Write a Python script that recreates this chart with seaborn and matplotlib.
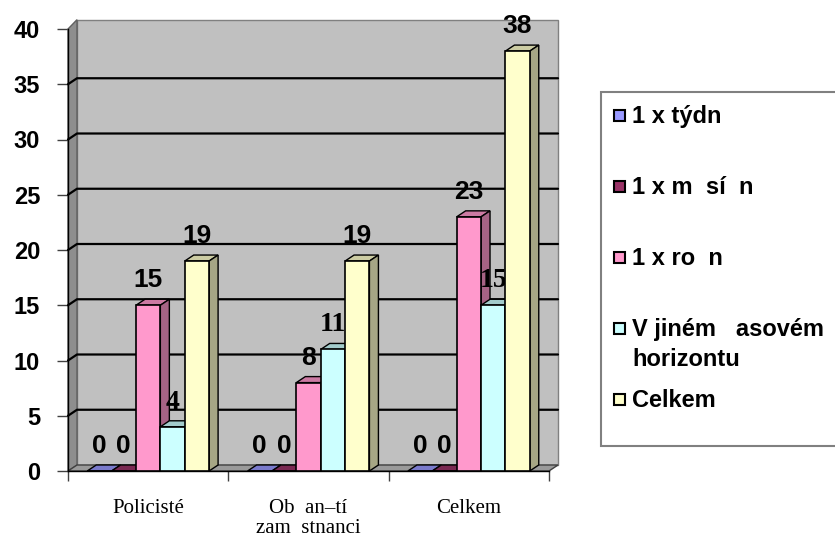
import numpy as np
import pandas as pd
import matplotlib
matplotlib.use("Agg")
import matplotlib.pyplot as plt
import seaborn as sns
from matplotlib.patches import Polygon, Rectangle
from matplotlib.lines import Line2D
from matplotlib.colors import to_rgb

# ---- data -------------------------------------------------------------
categories = ["Policisté", "Ob  an\u2013tí\nzam  stnanci", "Celkem"]
series = ["1 x týdn", "1 x m  sí  n", "1 x ro  n",
          "V jiném   asovém\nhorizontu", "Celkem"]
values_tydne = [0, 0, 0]
values_mesicne = [0, 0, 0]
values_rocne = [15, 8, 23]
values_jine = [4, 11, 15]
values_celkem = [19, 19, 38]
series_values = [values_tydne, values_mesicne, values_rocne,
                 values_jine, values_celkem]
colors = ["#9999FF", "#993366", "#FF99CC", "#CCFFFF", "#FFFFCC"]
y_ticks = [0, 5, 10, 15, 20, 25, 30, 35, 40]

rows = []
for name, vals in zip(series, series_values):
    for cat, v in zip(categories, vals):
        rows.append({"cat": cat, "series": name, "value": v})
df = pd.DataFrame(rows)

# ---- figure -------------------------------------------------------------
sns.set_theme(style="white")
plt.rcParams["font.family"] = ["Liberation Sans", "DejaVu Sans"]
plt.rcParams["text.color"] = "black"
plt.rcParams["xtick.color"] = "black"
plt.rcParams["ytick.color"] = "black"

W, H = 835, 539
fig = plt.figure(figsize=(W / 100, H / 100), dpi=100)
fig.patch.set_facecolor("white")


def fx(px):
    return px / W


def fy(py):
    return 1 - py / H


ax_l, ax_r, ax_t, ax_b = 68, 549, 29, 471
ax = fig.add_axes([fx(ax_l), fy(ax_b), (ax_r - ax_l) / W, (ax_b - ax_t) / H])
ax.patch.set_visible(False)

sns.barplot(data=df, x="cat", y="value", hue="series", order=categories,
            hue_order=series, palette=colors, width=0.76, saturation=1,
            edgecolor="black", linewidth=1.2, legend=False, ax=ax)

XMIN, XMAX, YMIN, YMAX = -0.5, 2.5, 0, 40
ax.set_xlim(XMIN, XMAX)
ax.set_ylim(YMIN, YMAX)

# depth offset of the pseudo-3D box, in data units
DX = 9 / (ax_r - ax_l) * (XMAX - XMIN)
DY = 6 / (ax_b - ax_t) * (YMAX - YMIN)


def shade(c, f):
    r, g, b = to_rgb(c)
    return (r * f, g * f, b * f)


# walls and floor
back = Polygon([(XMIN + DX, DY), (XMAX + DX, DY), (XMAX + DX, YMAX + DY + 0.3),
                (XMIN + DX, YMAX + DY + 0.3)], closed=True, fc="#C0C0C0",
               ec="#808080", lw=1.0, clip_on=False, zorder=1)
side = Polygon([(XMIN, 0), (XMIN + DX, DY), (XMIN + DX, YMAX + DY + 0.3),
                (XMIN, YMAX)], closed=True, fc="#8E8E8E", ec="#606060",
               lw=1.0, clip_on=False, zorder=1.2)
floor = Polygon([(XMIN, 0), (XMAX, 0), (XMAX + DX, DY), (XMIN + DX, DY)],
                closed=True, fc="#9A9A9A", ec="#404040", lw=1.0,
                clip_on=False, zorder=1.4)
for p in (back, side, floor):
    ax.add_patch(p)

for t in y_ticks[1:-1]:
    ax.add_line(Line2D([XMIN, XMIN + DX, XMAX + DX], [t, t + DY, t + DY],
                       color="black", lw=1.6, clip_on=False, zorder=1.6))

# bars: side and top faces behind each front face
for k, container in enumerate(ax.containers):
    col = colors[k]
    for bar, v in zip(container, series_values[k]):
        x0, w, h = bar.get_x(), bar.get_width(), bar.get_height()
        bar.set_zorder(10 + 2 * k + 0.5)
        top = Polygon([(x0, h), (x0 + w, h), (x0 + w + DX, h + DY),
                       (x0 + DX, h + DY)], closed=True, fc=shade(col, 0.8),
                      ec="black", lw=1.0, clip_on=False, zorder=10 + 2 * k)
        ax.add_patch(top)
        if h > 0:
            sd = Polygon([(x0 + w, 0), (x0 + w + DX, DY),
                          (x0 + w + DX, h + DY), (x0 + w, h)], closed=True,
                         fc=shade(col, 0.65), ec="black", lw=1.0,
                         clip_on=False, zorder=10 + 2 * k)
            ax.add_patch(sd)
        if k == 3:
            fam, size = ["Liberation Serif", "DejaVu Serif"], 20
        else:
            fam, size = ["Liberation Sans", "DejaVu Sans"], 19
        ax.annotate(f"{v:g}", xy=(x0 + w / 2, v), xytext=(0, 13),
                    textcoords="offset points", ha="center", va="baseline",
                    fontsize=size, fontweight="bold", family=fam,
                    color="black", annotation_clip=False, zorder=11 + 2 * k)

# axes decoration
for s in ("top", "right"):
    ax.spines[s].set_visible(False)
for s in ("left", "bottom"):
    ax.spines[s].set_color("black")
    ax.spines[s].set_linewidth(1.0)
    ax.spines[s].set_zorder(2)

ax.set_yticks(y_ticks)
ax.set_yticklabels([str(t) for t in y_ticks], fontsize=17,
                   fontweight="bold", color="black")
ax.tick_params(axis="y", left=True, length=8, width=1, color="#404040",
               pad=12)

ax.set_xticks(range(len(categories)))
ax.set_xticklabels(categories, family=["Liberation Serif", "DejaVu Serif"],
                   fontsize=15, linespacing=1.12, color="black")
ax.set_xticks([XMIN + i for i in range(len(categories) + 1)], minor=True)
ax.tick_params(axis="x", which="major", length=0, pad=20)
ax.tick_params(axis="x", which="minor", bottom=True, length=7, width=1,
               color="#404040")
ax.set_xlabel("")
ax.set_ylabel("")

# legend box
lg_left, lg_top, lg_bot = 601, 92, 446
fig.patches.append(Rectangle((fx(lg_left), fy(lg_bot)), fx(W - lg_left + 10),
                             (lg_bot - lg_top) / H, transform=fig.transFigure,
                             fc="white", ec="#808080", lw=1.5, zorder=0))
for k, (name, col) in enumerate(zip(series, colors)):
    base = 123 + 71 * k
    fig.patches.append(Rectangle((fx(614), fy(base - 2)), 11 / W, 11 / H,
                                 transform=fig.transFigure, fc=col,
                                 ec="black", lw=1.5, zorder=1))
    for j, line in enumerate(name.split("\n")):
        fig.text(fx(632), fy(base + 30 * j), line, ha="left", va="baseline",
                 fontsize=17, fontweight="bold", color="black")

fig.savefig("out.png", dpi=100)
